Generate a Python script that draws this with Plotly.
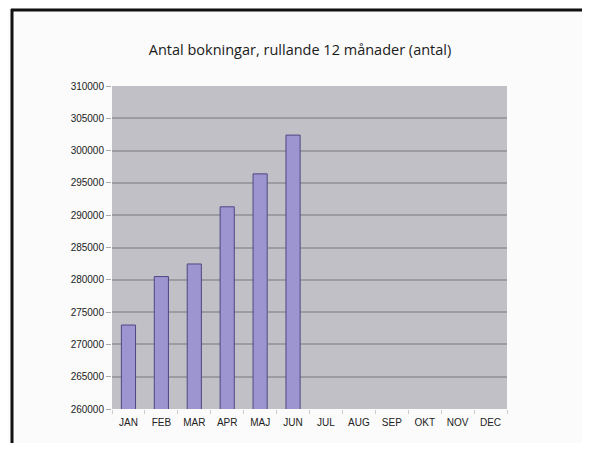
import plotly.graph_objects as go

months = ["JAN", "FEB", "MAR", "APR", "MAJ", "JUN", "JUL", "AUG", "SEP", "OKT", "NOV", "DEC"]
bookings = [273000, 280500, 282450, 291300, 296400, 302400, None, None, None, None, None, None]
y_ticks = [260000, 265000, 270000, 275000, 280000, 285000, 290000, 295000, 300000, 305000, 310000]
title_text = "Antal bokningar, rullande 12 månader (antal)"

OFF = 8  # page body margin
W, H = 590 - 2 * OFF, 451 - 2 * OFF
L, R, T, B = 112 - OFF, 507 - OFF, 86 - OFF, 409 - OFF

def px(x):
    return (x - OFF - L) / (R - L)

def py(y):
    return (B - (y - OFF)) / (B - T)

fig = go.Figure(go.Bar(
    x=months,
    y=bookings,
    width=0.43,
    marker=dict(color="#9c95cf", line=dict(color="#4f4785", width=1)),
))

fig.update_layout(
    width=W, height=H,
    margin=dict(l=L, r=W - R, t=T, b=H - B),
    paper_bgcolor="#fbfbfb",
    plot_bgcolor="#c1c0c6",
    showlegend=False,
    title=dict(text=title_text, x=(300 - OFF) / W, xanchor="center", y=1 - (50 - OFF) / H, yanchor="middle",
               font=dict(family="Open Sans", size=14.5, color="#1a1a1a")),
    font=dict(family="Liberation Sans, Arial", size=10, color="#222222"),
    bargap=0.57,
)
fig.update_xaxes(
    categoryorder="array", categoryarray=months,
    showgrid=False, ticks="outside", tickson="boundaries", ticklen=4, tickcolor="#cccccc",
    showline=False, zeroline=False, ticklabelstandoff=6,
    tickfont=dict(family="Liberation Sans, Arial", size=10, color="#222222"),
)
fig.update_yaxes(
    range=[260000, 310000], tickvals=y_ticks, ticktext=[str(v) for v in y_ticks],
    showgrid=True, gridcolor="#9c9ba2", gridwidth=1.5,
    ticks="outside", ticklen=5, tickcolor="#aaaaaa",
    zeroline=False, showline=False,
    tickfont=dict(family="Liberation Sans, Arial", size=10, color="#222222"),
)

# outer frame of the original image (top and left black border)
fig.add_shape(type="line", xref="paper", yref="paper", x0=px(11), x1=px(OFF + W), y0=py(10), y1=py(10),
              line=dict(color="#111111", width=3))
fig.add_shape(type="line", xref="paper", yref="paper", x0=px(12), x1=px(12), y0=py(9), y1=py(OFF + H),
              line=dict(color="#111111", width=3))

fig.write_html("out.html", config={"displayModeBar": False})
